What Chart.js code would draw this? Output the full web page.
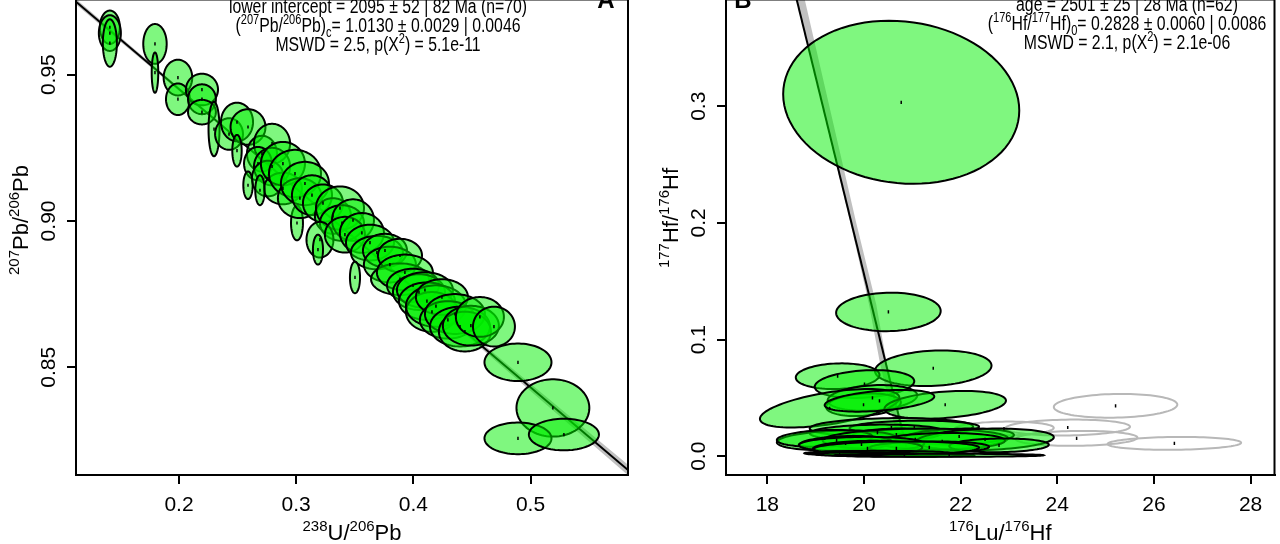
<!DOCTYPE html>
<html>
<head>
<meta charset="utf-8">
<script src="https://cdn.jsdelivr.net/npm/chart.js@4.4.0/dist/chart.umd.min.js"></script>
<style>
    html, body { margin: 0; padding: 0; background: #fff; overflow: hidden; }
    body { width: 1280px; height: 544px; position: relative; }
    .panel { position: absolute; top: -6px; width: 640px; height: 550px; }
    #wrap-a { left: 0; }
    #wrap-b { left: 640px; }
</style>
</head>
<body>
<div class="panel" id="wrap-a"><canvas id="chart-a" width="640" height="550"></canvas></div>
<div class="panel" id="wrap-b"><canvas id="chart-b" width="640" height="550"></canvas></div>
<script>
// ---- panel A : 207Pb/206Pb vs 238U/206Pb ----
const aX = [0.141, 0.141, 0.141, 0.1795, 0.1795, 0.1991, 0.1991, 0.2196, 0.2196, 0.2196,
    0.2299, 0.2427, 0.2495, 0.2589, 0.2495, 0.2708, 0.2794, 0.2674, 0.2794, 0.2759,
    0.2887, 0.2887, 0.2990, 0.2589, 0.2691, 0.3007, 0.3032, 0.3075, 0.3135, 0.3229,
    0.3314, 0.3374, 0.3391, 0.3485, 0.3203, 0.3186, 0.3416, 0.3561, 0.3630, 0.3689,
    0.3758, 0.3800, 0.3886, 0.3502, 0.3886, 0.3928, 0.3997, 0.4048, 0.4099, 0.4116,
    0.4159, 0.4193, 0.4244, 0.4295, 0.4355, 0.4398, 0.4440, 0.4491, 0.4568, 0.4688,
    0.4893, 0.5191, 0.4893, 0.5285];
const aY = [0.9662, 0.9642, 0.9608, 0.9605, 0.9507, 0.9490, 0.9416, 0.9449, 0.9416, 0.9372,
    0.9314, 0.9297, 0.9338, 0.9321, 0.9240, 0.9230, 0.9264, 0.9196, 0.9186, 0.9145,
    0.9111, 0.9196, 0.9162, 0.9122, 0.9105, 0.8993, 0.9078, 0.9128, 0.9088, 0.9061,
    0.9017, 0.9044, 0.8993, 0.9003, 0.8936, 0.8902, 0.8953, 0.8959, 0.8926, 0.8892,
    0.8899, 0.8851, 0.8882, 0.8807, 0.8801, 0.8824, 0.8780, 0.8757, 0.8764, 0.8726,
    0.8689, 0.8709, 0.8740, 0.8662, 0.8682, 0.8639, 0.8622, 0.8642, 0.8672, 0.8639,
    0.8517, 0.8361, 0.8257, 0.8270];
const aSx = [0.0085, 0.0094, 0.0060, 0.0100, 0.0028, 0.0122, 0.0102, 0.0137, 0.0119, 0.0119,
    0.0047, 0.0119, 0.0137, 0.0149, 0.0040, 0.0128, 0.0154, 0.0119, 0.0154, 0.0137,
    0.0162, 0.0188, 0.0222, 0.0040, 0.0040, 0.0051, 0.0188, 0.0205, 0.0171, 0.0171,
    0.0154, 0.0205, 0.0188, 0.0179, 0.0115, 0.0043, 0.0171, 0.0188, 0.0205, 0.0222,
    0.0188, 0.0222, 0.0188, 0.0043, 0.0247, 0.0239, 0.0222, 0.0222, 0.0239, 0.0239,
    0.0222, 0.0256, 0.0222, 0.0239, 0.0256, 0.0256, 0.0222, 0.0239, 0.0205, 0.0179,
    0.0286, 0.0311, 0.0286, 0.0299];
const aSy = [0.0057, 0.0061, 0.0081, 0.0068, 0.0069, 0.0061, 0.0054, 0.0054, 0.0051, 0.0042,
    0.0093, 0.0054, 0.0066, 0.0061, 0.0054, 0.0061, 0.0068, 0.0057, 0.0064, 0.0061,
    0.0054, 0.0074, 0.0081, 0.0047, 0.0051, 0.0059, 0.0068, 0.0074, 0.0068, 0.0064,
    0.0061, 0.0074, 0.0061, 0.0071, 0.0061, 0.0051, 0.0061, 0.0068, 0.0061, 0.0057,
    0.0057, 0.0061, 0.0057, 0.0054, 0.0054, 0.0061, 0.0057, 0.0061, 0.0061, 0.0064,
    0.0068, 0.0071, 0.0061, 0.0064, 0.0068, 0.0068, 0.0068, 0.0068, 0.0068, 0.0068,
    0.0064, 0.0098, 0.0054, 0.0054];
const aTicksX = [0.2, 0.3, 0.4, 0.5];
const aTicksY = [0.85, 0.90, 0.95];
const aIntercept = 1.0130;   // (207Pb/206Pb)c
const aSlope = -0.3397;
const aBandX = [0.10, 0.25, 0.40, 0.60];
const aBandHalf = [0.0010, 0.0004, 0.0006, 0.0019];

// ---- panel B : 177Hf/176Hf vs 176Lu/176Hf ----
const bX = [20.77, 20.505, 21.433, 19.454, 20.01, 20.175, 19.99, 19.289, 21.68, 20.32,
    20.567, 21.041, 20.278, 20.67, 21.969, 19.433, 19.186, 21.062, 22.505, 21.619,
    19.619, 19.948, 22.794, 21.351, 20.072, 20.67, 20.309, 19.495, 20.072, 20.835, 21.763];
const bY = [0.3034, 0.1237, 0.0754, 0.0686, 0.0619, 0.0500, 0.0441, 0.0411, 0.0441, 0.0475,
    0.0246, 0.0246, 0.0203, 0.0186, 0.0169, 0.0136, 0.0153, 0.0144, 0.0144, 0.0127,
    0.0110, 0.0102, 0.0093, 0.0076, 0.0068, 0.0068, 0.0025, 0.0025, 0.0017, 0.0008, 0.0008];
const bSx = [2.443, 1.082, 1.206, 0.866, 1.03, 0.928, 0.773, 1.443, 1.258, 1.134,
    1.691, 1.340, 1.40, 0.897, 1.134, 1.237, 0.99, 1.918, 1.423, 1.299,
    0.959, 1.299, 1.031, 1.237, 1.134, 1.711, 1.546, 0.577, 1.072, 1.443, 1.959];
const bSy = [0.0699, 0.0165, 0.0153, 0.0110, 0.0119, 0.0110, 0.0097, 0.0165, 0.0119, 0.0093,
    0.0081, 0.0059, 0.0068, 0.0051, 0.0068, 0.0085, 0.0072, 0.0093, 0.0093, 0.0072,
    0.0064, 0.0064, 0.0059, 0.0051, 0.0064, 0.0059, 0.0021, 0.0017, 0.0017, 0.0013, 0.0013];
const bRho = [-0.1, 0.05, 0.15, 0.1, 0.2, 0.2, 0.2, 0.55, 0.3, 0.4,
    0.1, 0.1, 0.1, 0.1, 0.2, 0.2, 0.2, 0.1, 0.2, 0.1,
    0.2, 0.1, 0.1, 0.1, 0.1, 0.1, 0, 0, 0, 0, 0];
// rejected aliquots (grey)
const bOutX = [22.897, 24.216, 24.40, 25.206, 26.423];
const bOutY = [0.0237, 0.0246, 0.0153, 0.0432, 0.0110];
const bOutSx = [1.03, 1.289, 1.258, 1.278, 1.381];
const bOutSy = [0.0060, 0.0068, 0.0064, 0.0102, 0.0055];
const bOutRho = [0.1, 0.1, 0.1, 0.1, 0.1];
const bTicksX = [18, 20, 22, 24, 26, 28];
const bTicksY = [0.0, 0.1, 0.2, 0.3];
const bIntercept = 3.536;
const bSlope = -0.169;
const bLineEnd = 0.0;
const bBandY = [0.40, 0.20, 0.13, 0.08, 0.0];
const bBandLeft = [0.00, -0.02, -0.05, -0.12, -0.15];
const bBandRight = [0.17, 0.10, 0.10, 0.02, 0.02];

const FONT = '"Liberation Sans", Arial, Helvetica, sans-serif';
const GREEN = 'rgba(0, 240, 0, 0.5)';

function ellipsePath(ctx, xs, ys, e) {
    const r = Math.sqrt(1 - e.rho * e.rho);
    ctx.beginPath();
    for (let i = 0; i <= 90; i++) {
        const t = i / 90 * 2 * Math.PI;
        const px = xs.getPixelForValue(e.x + e.sx * Math.cos(t));
        const py = ys.getPixelForValue(e.y + e.sy * (e.rho * Math.cos(t) + r * Math.sin(t)));
        if (i === 0) ctx.moveTo(px, py);
        else ctx.lineTo(px, py);
    }
    ctx.closePath();
}

// parts: [text, 0 normal | 1 superscript | -1 subscript]
function drawRich(ctx, parts, x, y, size, squeeze) {
    const small = Math.round(size * 0.7);
    let total = 0;
    const widths = parts.map(([t, m]) => {
        ctx.font = (m ? small : size) + 'px ' + FONT;
        const w = ctx.measureText(t).width;
        total += w;
        return w;
    });
    ctx.save();
    ctx.translate(x, y);
    ctx.scale(squeeze || 1, 1);
    ctx.textAlign = 'left';
    ctx.textBaseline = 'alphabetic';
    ctx.fillStyle = '#000';
    let cx = -total / 2;
    parts.forEach(([t, m], i) => {
        ctx.font = (m ? small : size) + 'px ' + FONT;
        const dy = m === 1 ? -size * 0.42 : (m === -1 ? size * 0.25 : 0);
        ctx.fillText(t, cx, dy);
        cx += widths[i];
    });
    ctx.restore();
}

function makePanelPlugin(setup) {
    return {
        id: 'panel' + setup.letter,
        beforeDatasetsDraw(chart) {
            const {ctx, chartArea, scales: {x, y}} = chart;
            ctx.save();
            ctx.beginPath();
            ctx.rect(chartArea.left, chartArea.top, chartArea.width, chartArea.height);
            ctx.clip();
            ctx.fillStyle = 'rgba(150, 150, 150, 0.6)';
            ctx.beginPath();
            setup.band.forEach((p, i) => {
                const px = x.getPixelForValue(p[0]);
                const py = y.getPixelForValue(p[1]);
                if (i === 0) ctx.moveTo(px, py);
                else ctx.lineTo(px, py);
            });
            ctx.closePath();
            ctx.fill();
            ctx.restore();
        },
        afterDatasetDraw(chart, args) {
            if (args.index !== 0) return;
            const {ctx, chartArea, scales: {x, y}} = chart;
            ctx.save();
            ctx.beginPath();
            ctx.rect(chartArea.left, chartArea.top, chartArea.width, chartArea.height);
            ctx.clip();
            ctx.lineWidth = 2;
            for (let e of setup.rejected) {
                ellipsePath(ctx, x, y, e);
                ctx.strokeStyle = '#b8b8b8';
                ctx.stroke();
            }
            for (let e of setup.ellipses) {
                ellipsePath(ctx, x, y, e);
                ctx.fillStyle = GREEN;
                ctx.fill();
                ctx.strokeStyle = '#000';
                ctx.stroke();
            }
            ctx.restore();
        },
        afterDraw(chart) {
            const {ctx, chartArea, scales: {y}} = chart;
            ctx.save();
            ctx.strokeStyle = '#000';
            ctx.lineWidth = 2;
            ctx.strokeRect(chartArea.left, chartArea.top, chartArea.width, chartArea.height);

            // y tick labels, parallel to the axis
            ctx.fillStyle = '#000';
            ctx.font = '21px ' + FONT;
            ctx.textAlign = 'center';
            ctx.textBaseline = 'middle';
            setup.yTicks.forEach((v) => {
                ctx.save();
                ctx.translate(chartArea.left - 27, y.getPixelForValue(v));
                ctx.rotate(-Math.PI / 2);
                ctx.fillText(setup.yFmt(v), 0, 0);
                ctx.restore();
            });

            // axis titles
            drawRich(ctx, setup.xTitle, (chartArea.left + chartArea.right) / 2, 546, 22);
            ctx.save();
            ctx.translate(chartArea.left - 56, setup.yTitleAt);
            ctx.rotate(-Math.PI / 2);
            drawRich(ctx, setup.yTitle, 0, 8, 22);
            ctx.restore();

            // fit summary
            setup.summary.forEach((line, i) => {
                drawRich(ctx, line, setup.summaryX, setup.summaryY + i * 19, 20, 0.79);
            });

            ctx.font = 'bold 24px ' + FONT;
            ctx.textAlign = 'center';
            ctx.textBaseline = 'alphabetic';
            ctx.fillText(setup.letter, setup.letterX, 14);
            ctx.restore();
        }
    };
}

function scaleOptions(min, max, tickValues, fitSize, isX, fmt) {
    return {
        type: 'linear',
        min: min,
        max: max,
        afterBuildTicks: (scale) => { scale.ticks = tickValues.map(v => ({ value: v })); },
        afterFit: (scale) => {
            if (isX) scale.height = fitSize;
            else scale.width = fitSize;
        },
        grid: { drawOnChartArea: false, drawTicks: true, tickLength: 9, color: '#000', lineWidth: 2 },
        border: { display: true, color: '#000', width: 2 },
        ticks: {
            display: isX,
            color: '#000',
            padding: 9,
            maxRotation: 0,
            autoSkip: false,
            font: { family: FONT, size: 21 },
            callback: (v) => fmt(v)
        }
    };
}

function makeChart(canvasId, setup) {
    const dots = setup.ellipses.concat(setup.rejected).map(e => ({ x: e.x, y: e.y }));
    //eslint-disable-next-line no-undef
    return new Chart(document.getElementById(canvasId), {
        type: 'scatter',
        data: {
            datasets: [{
                label: 'regression',
                data: setup.line,
                showLine: true,
                borderColor: '#000',
                borderWidth: 2,
                pointRadius: 0,
                order: 1
            }, {
                label: 'aliquots',
                data: dots,
                pointStyle: 'line',
                rotation: 90,
                pointRadius: 1.6,
                pointBorderWidth: 1.5,
                pointBorderColor: '#000',
                order: 0
            }]
        },
        options: {
            responsive: false,
            animation: false,
            events: [],
            layout: { padding: { left: 0, right: setup.padRight, top: 0, bottom: 0 } },
            plugins: { legend: { display: false }, tooltip: { enabled: false } },
            scales: {
                x: scaleOptions(setup.xMin, setup.xMax, setup.xTicks, 69, true, setup.xFmt),
                y: scaleOptions(setup.yMin, setup.yMax, setup.yTicks, setup.yWidth, false, setup.yFmt)
            }
        },
        plugins: [makePanelPlugin(setup)]
    });
}

// ---- build panel A ----
const aXMin = 0.1121, aXMax = 0.5832, aYMin = 0.81318, aYMax = 0.97568;
const aLine = [aXMin, aXMax].map(v => ({ x: v, y: aIntercept + aSlope * v }));
const aBand = aBandX.map((v, i) => [v, aIntercept + aSlope * v + aBandHalf[i]])
    .concat(aBandX.map((v, i) => [v, aIntercept + aSlope * v - aBandHalf[i]]).reverse());
makeChart('chart-a', {
    letter: 'A', letterX: 606,
    xMin: aXMin, xMax: aXMax, yMin: aYMin, yMax: aYMax,
    xTicks: aTicksX, yTicks: aTicksY,
    xFmt: v => v.toFixed(1), yFmt: v => v.toFixed(2),
    yWidth: 76, padRight: 12,
    line: aLine, band: aBand,
    ellipses: aX.map((v, i) => ({ x: v, y: aY[i], sx: aSx[i], sy: aSy[i], rho: 0 })),
    rejected: [],
    xTitle: [['238', 1], ['U/', 0], ['206', 1], ['Pb', 0]],
    yTitle: [['207', 1], ['Pb/', 0], ['206', 1], ['Pb', 0]],
    yTitleAt: 226,
    summaryX: 378, summaryY: 19,
    summary: [
        [['lower intercept = 2095 \u00b1 52 | 82 Ma (n=70)', 0]],
        [['(', 0], ['207', 1], ['Pb/', 0], ['206', 1], ['Pb)', 0], ['c', -1], ['= 1.0130 \u00b1 0.0029 | 0.0046', 0]],
        [['MSWD = 2.5, p(X', 0], ['2', 1], [') = 5.1e-11', 0]]
    ]
});

// ---- build panel B ----
const bXMin = 17.144, bXMax = 28.495, bYMin = -0.0161, bYMax = 0.3915;
const bLine = [bYMax, bLineEnd].map(v => ({ x: (v - bIntercept) / bSlope, y: v }));
const bBand = bBandY.map((v, i) => [(v - bIntercept) / bSlope + bBandLeft[i], v])
    .concat(bBandY.map((v, i) => [(v - bIntercept) / bSlope + bBandRight[i], v]).reverse());
makeChart('chart-b', {
    letter: 'B', letterX: 103,
    xMin: bXMin, xMax: bXMax, yMin: bYMin, yMax: bYMax,
    xTicks: bTicksX, yTicks: bTicksY,
    xFmt: v => String(v), yFmt: v => v.toFixed(1),
    yWidth: 86, padRight: 3,
    line: bLine, band: bBand,
    ellipses: bX.map((v, i) => ({ x: v, y: bY[i], sx: bSx[i], sy: bSy[i], rho: bRho[i] })),
    rejected: bOutX.map((v, i) => ({ x: v, y: bOutY[i], sx: bOutSx[i], sy: bOutSy[i], rho: bOutRho[i] })),
    xTitle: [['176', 1], ['Lu/', 0], ['176', 1], ['Hf', 0]],
    yTitle: [['177', 1], ['Hf/', 0], ['176', 1], ['Hf', 0]],
    yTitleAt: 224,
    summaryX: 487, summaryY: 17,
    summary: [
        [['age = 2501 \u00b1 25 | 28 Ma (n=62)', 0]],
        [['(', 0], ['176', 1], ['Hf/', 0], ['177', 1], ['Hf)', 0], ['0', -1], ['= 0.2828 \u00b1 0.0060 | 0.0086', 0]],
        [['MSWD = 2.1, p(X', 0], ['2', 1], [') = 2.1e-06', 0]]
    ]
});
</script>
</body>
</html>
